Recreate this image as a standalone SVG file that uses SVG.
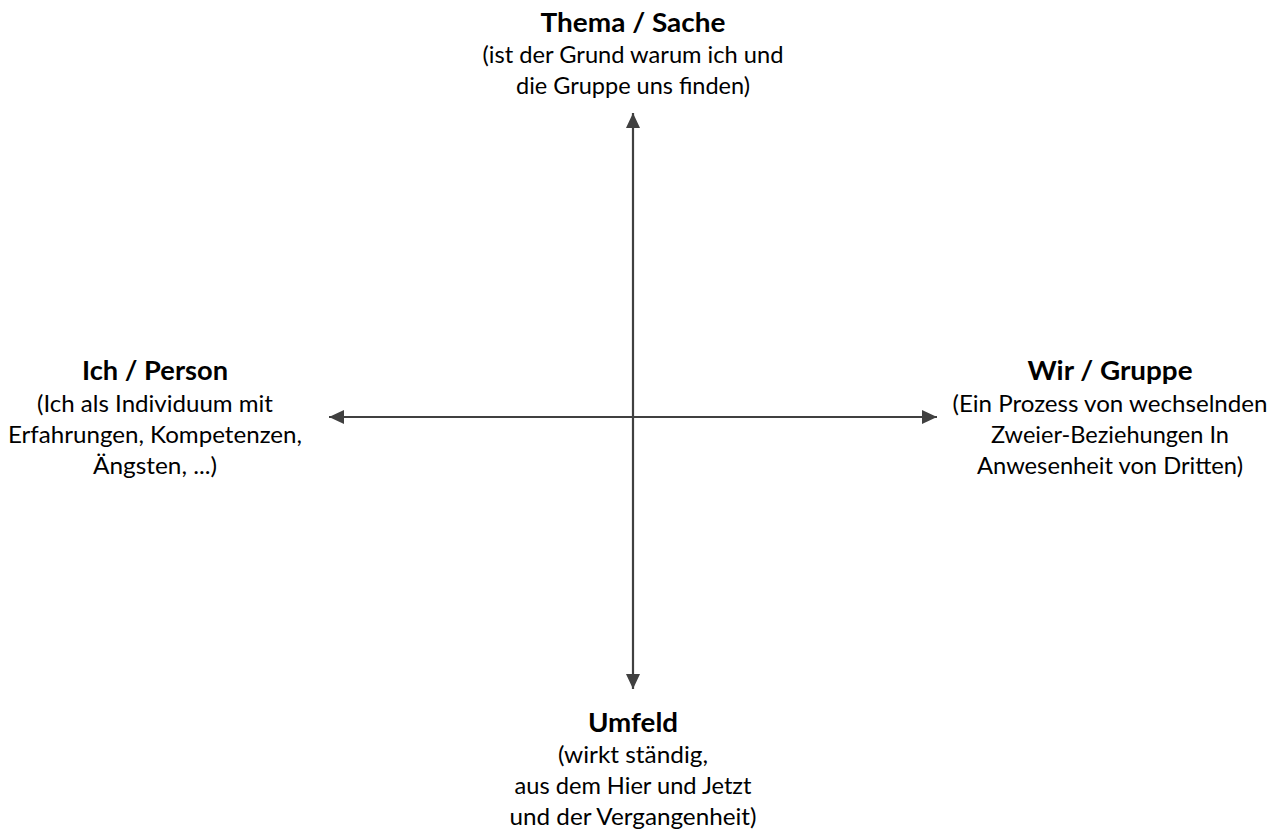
<svg xmlns="http://www.w3.org/2000/svg" width="1278" height="830" viewBox="0 0 1278 830">
<style>
text{font-family:Lato,"Open Sans","Liberation Sans",sans-serif;fill:#000;text-anchor:middle}
.t{font-weight:bold;font-size:26px}
.s{font-size:23px}
.ax{stroke:#404040;stroke-width:2.2;fill:none}
</style>
<defs>
<marker id="ah" viewBox="0 0 15 14" refX="15" refY="7" markerWidth="15" markerHeight="14" markerUnits="userSpaceOnUse" orient="auto">
<path d="M0,0 L15,7 L0,14 Z" fill="#404040"/>
</marker>
</defs>
<rect width="1278" height="830" fill="#fff"/>
<g id="connectors">
<line class="ax" x1="633" y1="417" x2="633" y2="113" marker-end="url(#ah)"/>
<line class="ax" x1="633" y1="417" x2="633" y2="689" marker-end="url(#ah)"/>
<line class="ax" x1="633" y1="417" x2="329" y2="417" marker-end="url(#ah)"/>
<line class="ax" x1="633" y1="417" x2="937" y2="417" marker-end="url(#ah)"/>
</g>
<g id="thema">
<text class="t" x="633" y="32" textLength="185" lengthAdjust="spacingAndGlyphs">Thema / Sache</text>
<text class="s" x="633" y="63" textLength="301" lengthAdjust="spacingAndGlyphs">(ist der Grund warum ich und</text>
<text class="s" x="633" y="94" textLength="234" lengthAdjust="spacingAndGlyphs">die Gruppe uns finden)</text>
</g>
<g id="ich">
<text class="t" x="155" y="380" textLength="146" lengthAdjust="spacingAndGlyphs">Ich / Person</text>
<text class="s" x="155" y="412" textLength="236" lengthAdjust="spacingAndGlyphs">(Ich als Individuum mit</text>
<text class="s" x="155" y="443" textLength="294" lengthAdjust="spacingAndGlyphs">Erfahrungen, Kompetenzen,</text>
<text class="s" x="155" y="474" textLength="124" lengthAdjust="spacingAndGlyphs">Ängsten, ...)</text>
</g>
<g id="wir">
<text class="t" x="1110" y="380" textLength="165" lengthAdjust="spacingAndGlyphs">Wir / Gruppe</text>
<text class="s" x="1110" y="412" textLength="315" lengthAdjust="spacingAndGlyphs">(Ein Prozess von wechselnden</text>
<text class="s" x="1110" y="443" textLength="238" lengthAdjust="spacingAndGlyphs">Zweier-Beziehungen In</text>
<text class="s" x="1110" y="474" textLength="266" lengthAdjust="spacingAndGlyphs">Anwesenheit von Dritten)</text>
</g>
<g id="umfeld">
<text class="t" x="633" y="732" textLength="90" lengthAdjust="spacingAndGlyphs">Umfeld</text>
<text class="s" x="633" y="763" textLength="150" lengthAdjust="spacingAndGlyphs">(wirkt ständig,</text>
<text class="s" x="633" y="794" textLength="237" lengthAdjust="spacingAndGlyphs">aus dem Hier und Jetzt</text>
<text class="s" x="633" y="825" textLength="247" lengthAdjust="spacingAndGlyphs">und der Vergangenheit)</text>
</g>
</svg>
